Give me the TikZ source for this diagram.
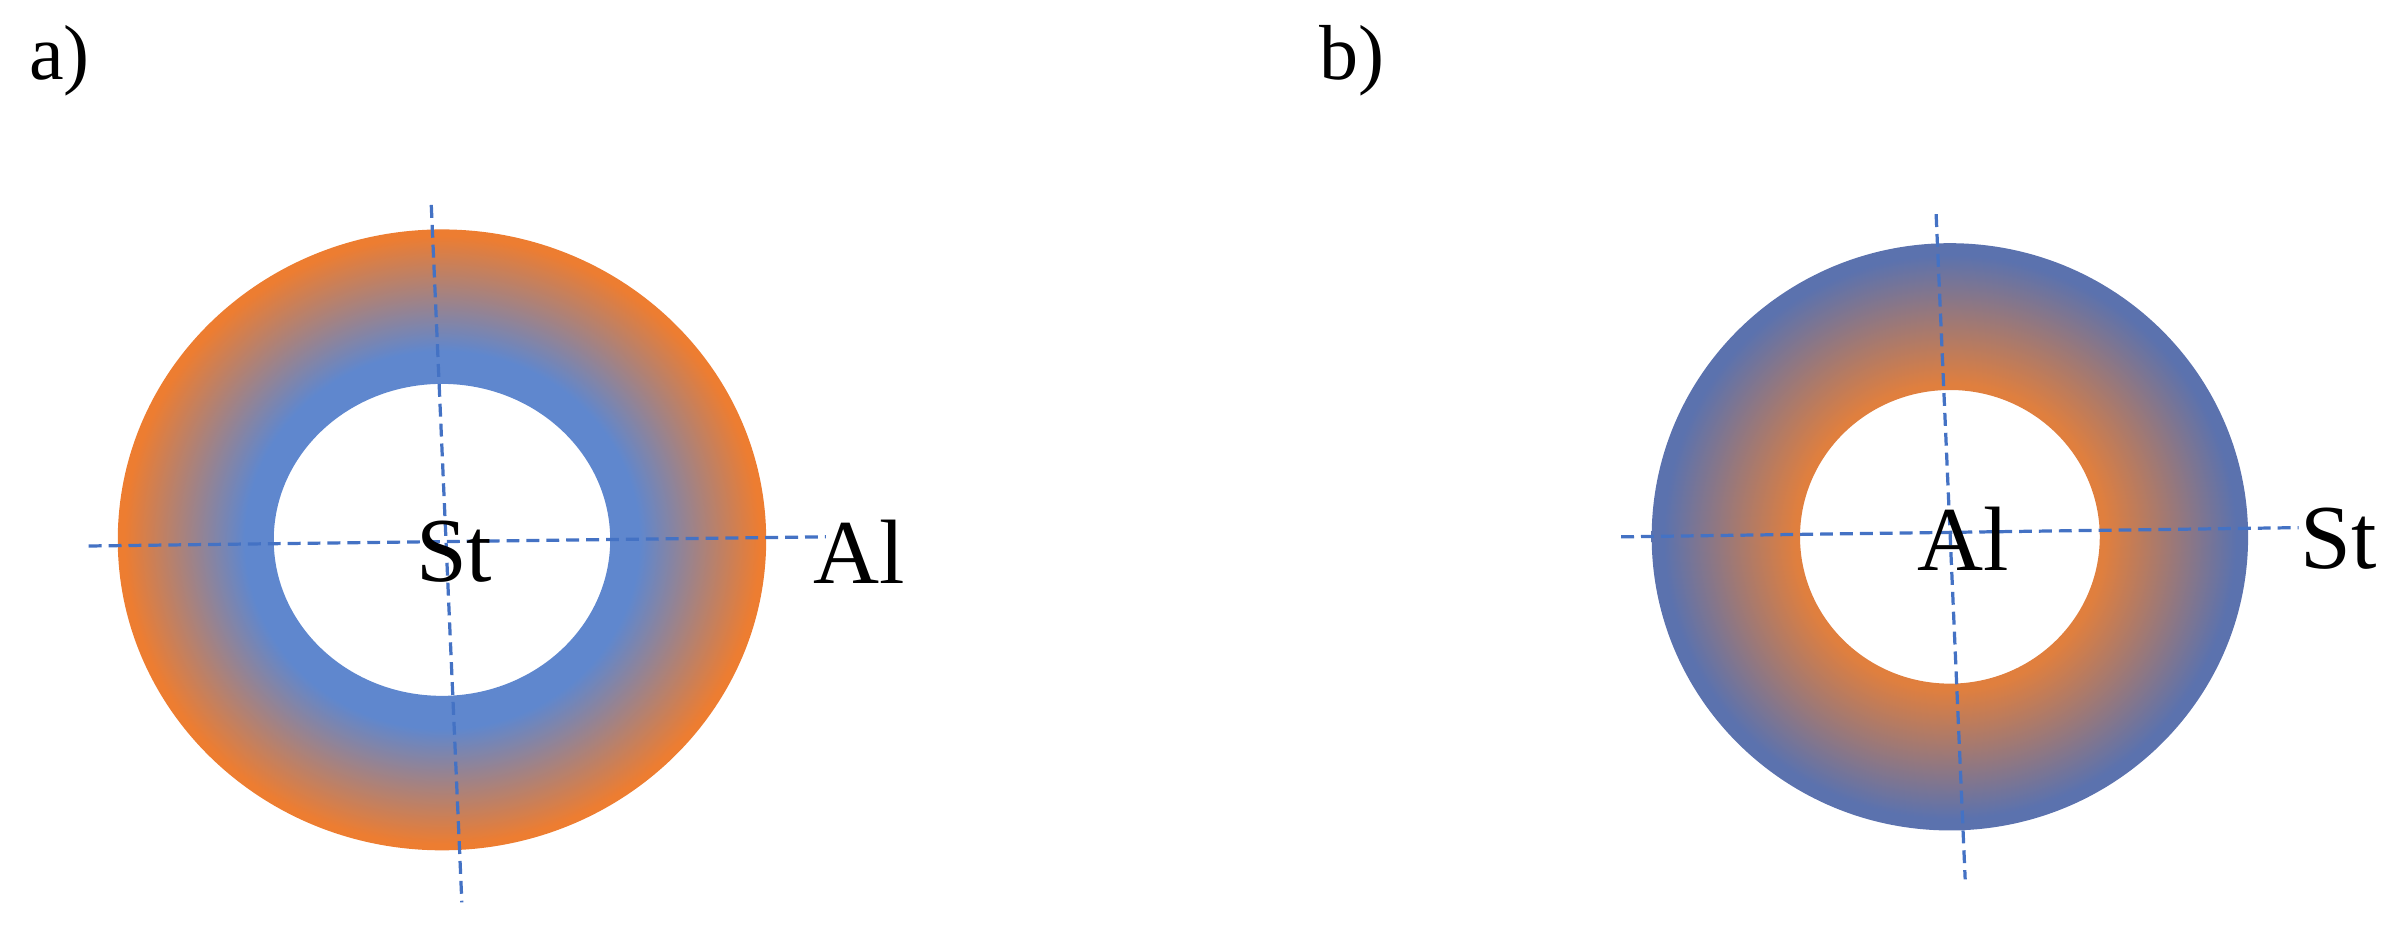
\documentclass[tikz,border=0pt]{standalone}
\usepackage{fontspec}
\setmainfont{Liberation Serif}
\usetikzlibrary{calc}
\usetikzlibrary{positioning}

\definecolor{ringblue}{HTML}{5F87CE}
\definecolor{ringorange}{HTML}{ED7D31}
\definecolor{ringamber}{HTML}{E07F3E}
\definecolor{ringnavy}{HTML}{5B72AE}
\definecolor{dashblue}{HTML}{4472C4}

\pgfdeclareradialshading{steelin}{\pgfpoint{0bp}{0bp}}{%
  color(0bp)=(ringblue); color(15.2bp)=(ringblue); color(24.5bp)=(ringorange); color(50bp)=(ringorange)}
\pgfdeclareradialshading{alumin}{\pgfpoint{0bp}{0bp}}{%
  color(0bp)=(ringamber); color(13bp)=(ringamber); color(24bp)=(ringnavy); color(50bp)=(ringnavy)}

\begin{document}
\begin{tikzpicture}[
      x=0.01cm, y=-0.01cm,
      axis line/.style={dashblue, dash pattern=on 2.4pt off 1.3pt, line width=0.6pt},
      panel label/.style={font=\fontsize{14.5}{16}\selectfont, inner sep=0pt},
      metal label/.style={font=\fontsize{17}{20}\selectfont, inner sep=0pt},
      ]
        \useasboundingbox (0,0) rectangle (1568,608);

        % ring a
        \shade[shading=steelin, even odd rule]
          (289,353) ellipse [x radius=212, y radius=203]
          (289,353) ellipse [x radius=110, y radius=102];
        \coordinate (a-w) at (58,357);
        \coordinate (a-e) at (540,351);
        \coordinate (a-n) at (282,134);
        \coordinate (a-s) at (302,590);
        \draw[axis line] (a-w) -- (a-e);
        \draw[axis line] (a-n) -- (a-s);
        \node[panel label] (a-label) at (39,40) {a)};
        \node[metal label] (a-inner) at (297,361) {St};
        \node[metal label] (a-outer) at (562,361) {Al};

        % ring b
        \shade[shading=alumin, even odd rule]
          (1275,351) ellipse [x radius=195, y radius=192]
          (1275,351) ellipse [x radius=98, y radius=96];
        \coordinate (b-w) at (1060,351);
        \coordinate (b-e) at (1503,345);
        \coordinate (b-n) at (1266,140);
        \coordinate (b-s) at (1285,575);
        \draw[axis line] (b-w) -- (b-e);
        \draw[axis line] (b-n) -- (b-s);
        \node[panel label] (b-label) at (884,40) {b)};
        \node[metal label] (b-inner) at (1284,352) {Al};
        \node[metal label] (b-outer) at (1529,352) {St};
\end{tikzpicture}
\end{document}
